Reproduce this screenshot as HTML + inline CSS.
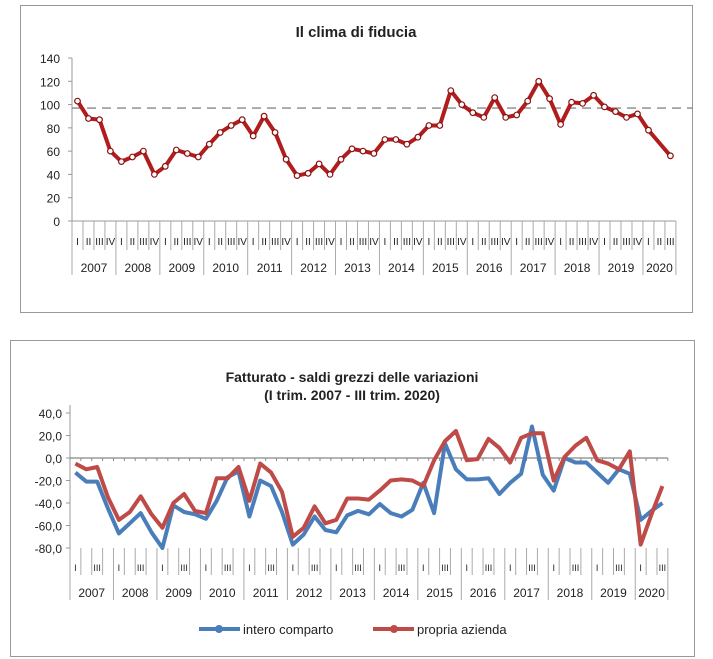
<!DOCTYPE html><html><head><style>body{margin:0;background:#fff}svg{display:block;font-family:"Liberation Sans",Arial,sans-serif}</style></head><body>
<svg id="s" width="713" height="659" xmlns="http://www.w3.org/2000/svg"></svg>
<script>
var s='';
function L(x1,y1,x2,y2,c,w,d){s+='<line x1="'+x1+'" y1="'+y1+'" x2="'+x2+'" y2="'+y2+'" stroke="'+c+'" stroke-width="'+w+'"'+(d?' stroke-dasharray="'+d+'"':'')+'/>';}
function T(x,y,t,sz,a,b){s+='<text x="'+x+'" y="'+y+'" font-size="'+sz+'" text-anchor="'+(a||'middle')+'" fill="#222"'+(b?' font-weight="bold"':'')+'>'+t+'</text>';}
var yrs=[];for(var i=2007;i<=2020;i++)yrs.push(i);
// chart 1
s+='<rect x="20.5" y="5.5" width="672" height="307" fill="none" stroke="#999"/>';
T(356,37,'Il clima di fiducia',15,'middle',1);
var d1=[103,88,87,60,51,55,60,40,47,61,58,55,66,76,82,87,73,90,76,53,39,41,49,40,53,62,60,58,70,70,66,72,82,82,112,100,93,89,106,89,91,103,120,105,83,102,101,108,98,94,89,92,78,67,56];
var x0=72,st=10.98,y0=221,k=163/140;
L(x0,58,x0,221,'#999',1);
for(var v=0;v<=140;v+=20){var y=y0-v*k;L(x0-4,y,x0,y,'#999',1);T(x0-12,y+5,v,12,'end');}
L(x0,y0,x0+55*st,y0,'#999',1);
L(x0,y0-97*k,693,y0-97*k,'#888',1.3,'9,6');
var q=['I','II','III','IV'];
for(var i=0;i<=55;i++){var x=x0+i*st;var yb=(i%4==0||i==55)?275:250;L(x,y0,x,yb,'#aaa',1);if(i<55)T(x+st/2,245,q[i%4],10);}
for(var j=0;j<14;j++){var xa=x0+j*4*st,xb=Math.min(x0+(j*4+4)*st,x0+55*st);T((xa+xb)/2,272,yrs[j],12);}
var p='';d1.forEach(function(v,i){p+=(i?'L':'M')+(x0+(i+.5)*st).toFixed(1)+','+(y0-v*k).toFixed(1);});
s+='<path d="'+p+'" fill="none" stroke="#b11c1c" stroke-width="4" stroke-linejoin="round"/>';
d1.forEach(function(v,i){if(i==53)return;s+='<circle cx="'+(x0+(i+.5)*st).toFixed(1)+'" cy="'+(y0-v*k).toFixed(1)+'" r="2.8" fill="#fff" stroke="#8c1010" stroke-width="1.2"/>';});
// chart 2
s+='<rect x="10.5" y="340.5" width="684" height="316" fill="none" stroke="#999"/>';
T(352,382,'Fatturato - saldi grezzi delle variazioni',14,'middle',1);
T(352,400,'(I trim. 2007 - III trim. 2020)',14,'middle',1);
var bl=[-13,-21,-21,-45,-67,-58,-49,-66,-80,-42,-48,-50,-54,-38,-17,-12,-52,-20,-25,-48,-77,-68,-52,-64,-66,-51,-47,-50,-41,-49,-52,-46,-22,-49,13,-10,-19,-19,-18,-32,-22,-14,28,-15,-29,0,-4,-4,-13,-22,-10,-14,-55,-47,-40];
var rd=[-5,-10,-8,-35,-55,-48,-34,-50,-62,-40,-32,-47,-49,-18,-18,-8,-38,-5,-13,-30,-70,-62,-43,-58,-55,-36,-36,-37,-29,-20,-19,-20,-25,-2,15,24,-2,-1,17,9,-4,18,22,22,-20,1,11,18,-2,-5,-10,6,-77,-50,-25];
var X0=70,S=10.87,Z=458,K=22.5/20;
L(X0,405,X0,548,'#999',1);
for(var v=-80;v<=40;v+=20){var y=Z-v*K;L(X0-4,y,X0,y,'#999',1);T(X0-8,y+5,v.toFixed(1).replace('.',','),12,'end');}
L(X0,Z,X0+55*S,Z,'#888',1.2);
for(var i=0;i<=55;i++){var x=X0+i*S;L(x,Z,x,Z+3,'#888',1);var yb=(i%4==0||i==55)?600:575;L(x,548,x,yb,'#aaa',1);if(i<55&&(i%4==0||i%4==2))T(x+S/2,571,i%4==0?'I':'III',9);}
for(var j=0;j<14;j++){var xa=X0+j*4*S,xb=Math.min(X0+(j*4+4)*S,X0+55*S);T((xa+xb)/2,597,yrs[j],12);}
function P(d,c){var p='';d.forEach(function(v,i){p+=(i?'L':'M')+(X0+(i+.5)*S).toFixed(1)+','+(Z-v*K).toFixed(1);});s+='<path d="'+p+'" fill="none" stroke="'+c+'" stroke-width="4" stroke-linejoin="round"/>';}
P(bl,'#4a7ebb');P(rd,'#be4b48');
L(199,629,240,629,'#4a7ebb',4);s+='<circle cx="219" cy="629" r="4" fill="#4a7ebb"/>';T(243,634,'intero comparto',13,'start');
L(373,629,414,629,'#be4b48',4);s+='<circle cx="394" cy="629" r="4" fill="#be4b48"/>';T(417,634,'propria azienda',13,'start');
document.getElementById('s').innerHTML=s;
</script></body></html>
